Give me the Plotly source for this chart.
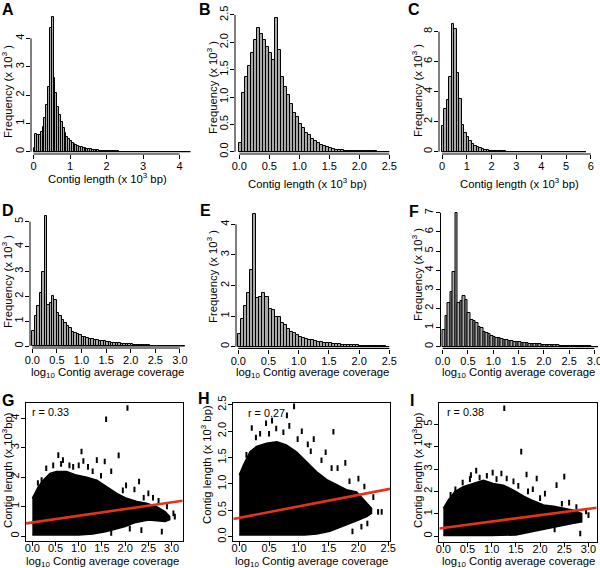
import numpy as np
import plotly.graph_objects as go

W, H = 600, 568

# ---------------- data (frequencies in x10^3) ----------------
binw_A = 0.05
freq_A = [0.12, 0.62, 0.60, 0.58, 0.71, 0.88, 1.18, 1.65, 2.29, 4.35, 4.76, 2.59, 2.06, 1.59,
          1.29, 1.06, 0.82, 0.65, 0.53, 0.45, 0.38, 0.32, 0.27, 0.24, 0.20, 0.18, 0.15, 0.13,
          0.12, 0.10, 0.09, 0.08, 0.07, 0.06, 0.05, 0.045, 0.04, 0.035, 0.03, 0.025, 0.02,
          0.018, 0.015, 0.013, 0.011, 0.01, 0.008, 0.007, 0.006, 0.005, 0.005, 0.004, 0.004,
          0.003, 0.003, 0.003, 0.002, 0.002, 0.002, 0.002, 0.002, 0.001, 0.001, 0.001, 0.001,
          0.001, 0.001, 0.001, 0.001, 0.001, 0.001, 0.001, 0.001, 0.001, 0.001, 0.001, 0.001,
          0.001, 0.001, 0.001, 0.001, 0.001, 0.001, 0.001, 0.001, 0.001]

binw_B = 0.05
freq_B = [0.16, 1.07, 1.36, 1.57, 1.81, 2.04, 2.26, 2.16, 2.05, 1.92, 1.81, 1.68, 2.44, 1.86,
          1.37, 1.18, 1.04, 0.87, 0.70, 0.63, 0.51, 0.43, 0.35, 0.30, 0.24, 0.20, 0.15, 0.12,
          0.10, 0.08, 0.06, 0.05, 0.04, 0.03, 0.025, 0.02, 0.017, 0.014, 0.012, 0.01, 0.009,
          0.008, 0.007, 0.006, 0.005, 0.004, 0.003, 0.003, 0.002, 0.002]

binw_C = 0.1
freq_C = [1.71, 2.82, 3.45, 5.0, 8.5, 8.16, 5.27, 3.49, 1.78, 1.23, 0.96, 0.74, 0.51, 0.38,
          0.29, 0.22, 0.16, 0.12, 0.09, 0.07, 0.05, 0.04, 0.03, 0.025, 0.02, 0.015, 0.012,
          0.01, 0.008, 0.007, 0.006, 0.005, 0.004, 0.004, 0.003, 0.003, 0.002, 0.002, 0.002,
          0.002, 0.001, 0.001, 0.001, 0.001, 0.001, 0.001, 0.001, 0.001, 0.001, 0.001, 0.001,
          0.001, 0.001, 0.001, 0.001, 0.001, 0.001, 0.001]

binw_D = 0.05
freq_D = [0.62, 1.22, 1.61, 2.15, 2.97, 5.22, 1.65, 1.74, 2.01, 1.85, 1.31, 1.22, 1.05, 0.91,
          0.80, 0.71, 0.58, 0.54, 0.48, 0.43, 0.38, 0.35, 0.33, 0.30, 0.28, 0.26, 0.24, 0.22,
          0.20, 0.19, 0.17, 0.16, 0.14, 0.13, 0.12, 0.11, 0.10, 0.09, 0.08, 0.07, 0.065, 0.06,
          0.05, 0.045, 0.04, 0.035, 0.03, 0.025, 0.02, 0.02, 0.015, 0.012, 0.01, 0.008, 0.006,
          0.005, 0.004, 0.003, 0.002, 0.002, 0.001, 0.001]

binw_E = 0.05
freq_E = [0.41, 0.89, 1.33, 1.77, 2.51, 4.34, 1.58, 1.63, 1.77, 1.61, 1.22, 1.20, 0.98, 0.96,
          0.78, 0.71, 0.57, 0.49, 0.44, 0.38, 0.33, 0.29, 0.26, 0.23, 0.21, 0.19, 0.17, 0.15,
          0.13, 0.12, 0.11, 0.10, 0.09, 0.08, 0.07, 0.065, 0.06, 0.05, 0.045, 0.04, 0.035,
          0.03, 0.025, 0.02, 0.018, 0.015, 0.012, 0.01, 0.008, 0.006]

binw_F = 0.05
freq_F = [0.87, 1.60, 2.30, 2.87, 3.92, 7.0, 2.26, 2.40, 2.65, 2.44, 1.78, 1.39, 1.36, 1.22,
          1.04, 0.96, 0.78, 0.70, 0.64, 0.57, 0.52, 0.47, 0.43, 0.40, 0.37, 0.34, 0.31, 0.29,
          0.27, 0.25, 0.23, 0.21, 0.19, 0.18, 0.16, 0.15, 0.14, 0.13, 0.12, 0.11, 0.10, 0.09,
          0.085, 0.08, 0.07, 0.065, 0.06, 0.055, 0.05, 0.045, 0.04, 0.035, 0.03, 0.028, 0.025,
          0.02, 0.018, 0.015, 0.012, 0.01, 0.008, 0.006]

# scatter clouds (envelopes of the dense point cloud) and isolated points
G_upper_x = [0.0, 0.05, 0.13, 0.24, 0.38, 0.52, 0.74, 0.95, 1.17, 1.39, 1.60, 1.82, 2.03, 2.25, 2.46, 2.68, 2.86, 2.96]
G_upper_y = [1.28, 1.45, 1.68, 1.90, 2.13, 2.19, 2.19, 2.07, 2.00, 1.90, 1.68, 1.45, 1.28, 1.17, 1.11, 1.00, 0.83, 0.66]
G_lower_x = [2.96, 2.86, 2.50, 2.20, 2.00, 1.60, 1.30, 1.00, 0.50, 0.0]
G_lower_y = [0.55, 0.49, 0.54, 0.45, 0.32, 0.15, 0.07, 0.03, 0.03, 0.03]
G_pts_x = [1.59, 2.05, 1.86, 0.56, 1.06, 0.66, 1.39, 1.56, 0.20, 2.02, 2.20, 2.50, 3.04, 2.79, 3.07, 2.35, 1.10, 0.80,
           1.70, 2.30, 2.60, 2.90, 2.10, 1.70, 0.45, 1.20, 0.30, 0.62, 0.88, 1.30, 1.48, 1.95, 2.40, 2.72, 0.12, 1.00]
G_pts_y = [3.97, 4.35, 2.74, 2.75, 2.87, 2.58, 2.58, 2.53, 1.90, 1.72, 1.58, 1.45, 0.77, 0.15, 0.66, 0.20, 2.55, 2.40,
           2.20, 1.85, 1.30, 1.00, 0.25, 0.10, 2.40, 2.35, 2.30, 2.45, 2.35, 2.20, 2.05, 1.55, 1.30, 1.20, 1.80, 2.40]
fit_G = (0.46, 0.228)   # intercept, slope
r_G = "r = 0.33"

H_upper_x = [0.0, 0.07, 0.18, 0.29, 0.46, 0.63, 0.79, 0.96, 1.13, 1.30, 1.47, 1.63, 1.80, 1.97, 2.14, 2.22]
H_upper_y = [1.17, 1.36, 1.61, 1.71, 1.77, 1.80, 1.74, 1.61, 1.42, 1.23, 1.08, 0.98, 0.89, 0.85, 0.63, 0.54]
H_lower_x = [2.22, 2.14, 1.97, 1.74, 1.52, 1.30, 1.10, 0.50, 0.0]
H_lower_y = [0.44, 0.38, 0.30, 0.19, 0.10, 0.05, 0.03, 0.03, 0.03]
H_pts_x = [0.92, 0.80, 0.21, 0.45, 1.58, 0.55, 1.78, 2.33, 2.39, 2.05, 0.35, 0.84, 1.05, 1.25, 1.45, 1.65, 2.00, 2.25,
           1.90, 2.15, 0.62, 1.15, 0.28, 0.50, 0.74, 0.98, 1.20, 1.38, 1.55, 1.85, 2.10, 0.12]
H_pts_y = [2.47, 2.30, 2.06, 2.15, 1.99, 2.20, 1.40, 0.47, 0.47, 0.19, 1.95, 2.10, 2.00, 1.85, 1.60, 1.30, 1.10, 0.75,
           0.10, 0.25, 2.05, 1.75, 1.88, 1.95, 1.98, 1.85, 1.62, 1.45, 1.30, 1.05, 0.95, 1.55]
fit_H = (0.357, 0.217)
r_H = "r = 0.27"

I_upper_x = [0.0, 0.10, 0.24, 0.41, 0.62, 0.83, 1.03, 1.24, 1.45, 1.66, 1.86, 2.07, 2.28, 2.48, 2.69, 2.86]
I_upper_y = [1.24, 1.61, 1.99, 2.21, 2.36, 2.50, 2.36, 2.28, 2.06, 1.79, 1.58, 1.39, 1.34, 1.24, 1.16, 1.01]
I_lower_x = [2.86, 2.69, 2.34, 2.00, 1.72, 1.50, 1.00, 0.0]
I_lower_y = [0.64, 0.57, 0.42, 0.27, 0.12, 0.05, 0.03, 0.03]
I_pts_x = [1.26, 1.61, 0.68, 0.57, 1.02, 1.20, 1.31, 1.72, 1.93, 2.34, 2.50, 0.25, 3.00, 2.83, 2.15, 1.85, 2.10, 2.60,
           2.95, 0.90, 1.45, 2.30, 0.15, 0.40, 0.75, 1.10, 1.55, 1.75, 2.00, 2.45, 2.75, 0.55]
I_pts_y = [5.72, 3.78, 2.93, 2.73, 2.84, 2.80, 2.58, 2.76, 2.58, 2.28, 2.66, 2.10, 0.94, 0.12, 0.60, 2.10, 1.90, 1.50,
           1.10, 2.70, 2.45, 0.30, 1.85, 2.40, 2.62, 2.55, 2.25, 2.00, 1.70, 1.45, 1.30, 2.55]
fit_I = (0.364, 0.286)
r_I = "r = 0.38"

# tick labels
ticks_A_x = ["0", "1", "2", "3", "4"];            ticks_A_y = ["0", "1", "2", "3", "4"]
ticks_B_x = ["0.0", "0.5", "1.0", "1.5", "2.0", "2.5"]; ticks_B_y = ["0.0", "0.5", "1.0", "1.5", "2.0", "2.5"]
ticks_C_x = ["0", "1", "2", "3", "4", "5", "6"];  ticks_C_y = ["0", "2", "4", "6", "8"]
ticks_D_x = ["0.0", "0.5", "1.0", "1.5", "2.0", "2.5", "3.0"]; ticks_D_y = ["0", "1", "2", "3", "4", "5"]
ticks_E_x = ["0.0", "0.5", "1.0", "1.5", "2.0", "2.5"]; ticks_E_y = ["0", "1", "2", "3", "4"]
ticks_F_x = ["0.0", "0.5", "1.0", "1.5", "2.0", "2.5", "3.0"]; ticks_F_y = ["0", "1", "2", "3", "4", "5", "6", "7"]
ticks_G_x = ["0.0", "0.5", "1.0", "1.5", "2.0", "2.5", "3.0"]; ticks_G_y = ["0", "1", "2", "3", "4"]
ticks_H_x = ["0.0", "0.5", "1.0", "1.5", "2.0", "2.5"]; ticks_H_y = ["0.0", "0.5", "1.0", "1.5", "2.0", "2.5"]
ticks_I_x = ["0.0", "0.5", "1.0", "1.5", "2.0", "2.5", "3.0"]; ticks_I_y = ["0", "1", "2", "3", "4", "5"]

lbl_freq = "Frequency (x 10<sup>3</sup> )"
lbl_len = "Contig length (x 10<sup>3</sup> bp)"
lbl_cov = "log<sub>10</sub> Contig average coverage"
lbl_len_G = "Contig length (x 10<sup>3</sup>bp)"
lbl_len_H = "Contig length (x 10<sup>3</sup> bp)"
lbl_len_I = "Contig length (x 10<sup>3</sup>bp)"

# ---------------- layout helpers ----------------
FONT = "Liberation Sans, Arial, sans-serif"
TICKFONT = dict(family=FONT, size=11, color="black")
fig = go.Figure()


def ax_ids(i):
    return ("x" if i == 1 else f"x{i}"), ("y" if i == 1 else f"y{i}")


def xr_from(p0, u, dl, dr):
    return [(dl - p0) / u, (dr - p0) / u]


def yr_from(p0, u, dt, db):
    return [-(db - p0) / u, (p0 - dt) / u]


def setup_axes(i, xdom, ydom, xr, yr, xt, yt, box=False):
    xid, yid = ax_ids(i)
    xv = [float(t) for t in xt]
    yv = [float(t) for t in yt]
    common = dict(ticks="outside", ticklen=4, tickwidth=1, tickcolor="black",
                  showgrid=False, zeroline=False, showline=box, mirror=box,
                  linecolor="black", linewidth=1, tickfont=TICKFONT,
                  automargin=False, fixedrange=True, ticklabeloverflow="allow")
    fig.layout["xaxis" if i == 1 else f"xaxis{i}"] = dict(
        domain=[xdom[0] / W, xdom[1] / W], range=xr, anchor=yid,
        tickvals=xv, ticktext=xt, ticklabelstandoff=(-7 if box else -2), **common)
    fig.layout["yaxis" if i == 1 else f"yaxis{i}"] = dict(
        domain=[1 - ydom[1] / H, 1 - ydom[0] / H], range=yr, anchor=xid,
        tickvals=yv, ticktext=yt, tickangle=-90, ticklabelstandoff=-2, **common)
    if not box:
        # R-style axis lines spanning first..last tick only
        fig.add_shape(type="line", xref=f"{xid} domain", yref=yid, x0=0, x1=0,
                      y0=yv[0], y1=yv[-1], line=dict(color="black", width=1))
        fig.add_shape(type="line", xref=xid, yref=f"{yid} domain", x0=xv[0], x1=xv[-1],
                      y0=0, y1=0, line=dict(color="black", width=1))


def hist(i, binw, freq):
    xid, yid = ax_ids(i)
    n = len(freq)
    centers = np.arange(n) * binw + binw / 2
    fig.add_trace(go.Bar(x=centers, y=freq, width=binw, xaxis=xid, yaxis=yid,
                         marker=dict(color="#a9a9a9", line=dict(color="black", width=1)),
                         showlegend=False, hoverinfo="skip"))
    # zero-height bars drawn as a baseline in R
    fig.add_trace(go.Scatter(x=[0, n * binw], y=[0, 0], mode="lines", xaxis=xid, yaxis=yid,
                             line=dict(color="black", width=1.2), showlegend=False,
                             hoverinfo="skip"))


def cloud(i, ux, uy, lx, ly, px_, py_, fit, xr):
    xid, yid = ax_ids(i)
    fig.add_trace(go.Scatter(x=ux + lx, y=uy + ly, fill="toself", fillcolor="black",
                             mode="lines", line=dict(color="black", width=1.5),
                             xaxis=xid, yaxis=yid, showlegend=False, hoverinfo="skip"))
    fig.add_trace(go.Scatter(x=px_, y=py_, mode="markers", xaxis=xid, yaxis=yid,
                             marker=dict(symbol="line-ns", size=4,
                                         line=dict(width=2, color="black")),
                             showlegend=False, hoverinfo="skip"))
    fx = np.array(xr)
    fig.add_trace(go.Scatter(x=fx, y=fit[0] + fit[1] * fx, mode="lines", xaxis=xid, yaxis=yid,
                             line=dict(color="#e4321b", width=2.6), showlegend=False,
                             hoverinfo="skip"))


def text(x, y, s, size=11.3, angle=0, xanchor="center"):
    fig.add_annotation(x=x / W, y=1 - y / H, xref="paper", yref="paper", text=s,
                       showarrow=False, textangle=angle, xanchor=xanchor, yanchor="middle",
                       font=dict(family=FONT, size=size, color="black"))


# ---------------- histograms ----------------
hist_specs = [
    # i, binw, freq, (x p0,u,dl,dr), (y p0,u,dt,db), ticks
    (1, binw_A, freq_A, (33.5, 36.5, 31, 194), (151.7, 28.33, 10, 154), ticks_A_x, ticks_A_y),
    (2, binw_B, freq_B, (239.3, 60.0, 235, 395), (151.7, 54.7, 10, 154), ticks_B_x, ticks_B_y),
    (3, binw_C, freq_C, (442.0, 24.8, 439, 597), (151.7, 15.0, 20, 154), ticks_C_x, ticks_C_y),
    (4, binw_D, freq_D, (32.3, 49.2, 30, 190), (346.0, 24.87, 205, 348), ticks_D_x, ticks_D_y),
    (5, binw_E, freq_E, (238.3, 60.4, 236, 392), (346.7, 30.6, 205, 348.5), ticks_E_x, ticks_E_y),
    (6, binw_F, freq_F, (442.7, 50.57, 440.5, 598), (346.7, 19.14, 205, 348.5), ticks_F_x, ticks_F_y),
]
for i, bw, fq, xs, ys, tx, ty in hist_specs:
    xr = xr_from(*xs)
    yr = yr_from(*ys)
    setup_axes(i, (xs[2], xs[3]), (ys[2], ys[3]), xr, yr, tx, ty)
    hist(i, bw, fq)

# ---------------- scatter panels ----------------
scat_specs = [
    (7, (26, 182.7), (402.7, 541), [-0.136, 3.24], [-0.17, 4.53], ticks_G_x, ticks_G_y,
     G_upper_x, G_upper_y, G_lower_x, G_lower_y, G_pts_x, G_pts_y, fit_G),
    (8, (233.3, 390), (402.7, 541), [-0.10, 2.53], [-0.082, 2.54], ticks_H_x, ticks_H_y,
     H_upper_x, H_upper_y, H_lower_x, H_lower_y, H_pts_x, H_pts_y, fit_H),
    (9, (439.3, 596.7), (402.7, 541.7), [-0.083, 3.17], [-0.25, 5.97], ticks_I_x, ticks_I_y,
     I_upper_x, I_upper_y, I_lower_x, I_lower_y, I_pts_x, I_pts_y, fit_I),
]
for (i, xd, yd, xr, yr, tx, ty, ux, uy, lx, ly, ptx, pty, fit) in scat_specs:
    setup_axes(i, xd, yd, xr, yr, tx, ty, box=True)
    cloud(i, ux, uy, lx, ly, ptx, pty, fit, xr)

# ---------------- text ----------------
for lab, x, y in [("A", 8, 10), ("B", 205, 10), ("C", 414, 10),
                  ("D", 8, 210), ("E", 205, 210), ("F", 414, 211),
                  ("G", 8, 400), ("H", 204, 398), ("I", 412, 400)]:
    text(x, y, f"<b>{lab}</b>", size=16)

for x, y in [(7, 92), (212, 88), (417, 90), (7, 282), (212, 277), (417, 274)]:
    text(x, y, lbl_freq, angle=-90)
text(7, 470, lbl_len_G, angle=-90)
text(206, 465, lbl_len_H, angle=-90)
text(417, 470, lbl_len_I, angle=-90)

for x, y in [(107, 178), (307, 183), (519, 183)]:
    text(x, y, lbl_len)
for x, y in [(107, 373), (313, 373), (518, 373), (102, 562), (311, 562), (518, 562)]:
    text(x, y, lbl_cov)

text(30, 412, r_G, size=10.8, xanchor="left")
text(246, 413, r_H, size=10.8, xanchor="left")
text(445, 412, r_I, size=10.8, xanchor="left")

fig.update_layout(width=W, height=H, margin=dict(l=0, r=0, t=0, b=0),
                  paper_bgcolor="white", plot_bgcolor="white", template="none",
                  bargap=0, barmode="overlay", showlegend=False,
                  font=dict(family=FONT, size=12, color="black"))

fig.write_html("out.html", config={"displayModeBar": False},
               post_script="document.body.style.margin='0px';")
